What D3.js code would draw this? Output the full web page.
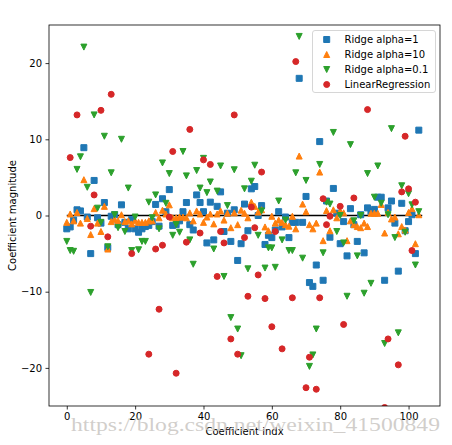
<!DOCTYPE html>
<html><head><meta charset="utf-8">
<script src="https://cdn.jsdelivr.net/npm/d3@7"></script>
<style>body{margin:0;background:#fff}svg{display:block}</style>
</head><body>
<script>
// ---- data ----
const coefIndex = d3.range(104);
const ridge1 = [-1.75,-1.5,-0.6,0.75,0.6,8.9,-0.2,-5.0,4.6,-0.3,
  -1.0,1.7,-4.2,-0.1,0.1,-1.2,1.4,-0.9,-1.75,-0.5,
  -1.75,-2.2,-1.75,-1.45,-1.3,-0.8,1.45,-1.4,2.2,0.5,
  3.4,-1.3,-1.2,-0.7,0.5,1.7,-1.2,-1.9,2.7,1.7,
  0.5,-3.6,1.75,-3.2,1.2,3.1,-2.1,0.3,-3.4,0.75,
  -5.9,-3.7,1.5,-2.0,3.5,3.8,0.0,1.3,-3.8,-2.6,
  -2.9,-1.9,0.5,-1.5,-0.2,-2.9,-0.9,-0.9,18.0,-0.9,
  2.5,-8.8,-9.3,-6.5,9.7,-8.5,1.9,-2.85,3.55,0.3,
  -3.7,-0.8,-5.3,0.9,-1.2,-3.4,0.1,-4.9,1.0,0.5,
  0.8,2.4,2.4,-8.5,1.0,1.9,-1.0,-7.3,1.6,-2.0,
  -0.8,0.1,-5.0,11.2];
const ridge10 = [-0.9,0.2,-0.7,0.4,-1.0,4.7,-0.4,-2.5,0.9,-1.0,
  -2.1,1.2,-4.4,-0.8,-0.5,-0.7,0.1,-0.8,-0.7,-1.1,
  -0.7,-0.9,-0.9,-0.9,-0.7,-0.7,0.4,-0.3,0.7,0.2,
  1.4,-0.3,-0.3,-0.2,-0.2,-0.3,0.35,-0.7,0.6,0.2,
  -0.9,-0.2,0.2,-1.1,0.2,0.6,-0.6,0.3,-1.6,0.35,
  -1.2,0.7,0.3,-0.3,1.75,1.2,0.45,0.75,-1.5,-2.0,
  -0.1,-1.0,-0.6,-0.9,-1.2,-1.4,-0.1,-1.75,7.8,1.5,
  0.5,-1.2,-1.75,-1.0,5.7,-3.3,0.65,-2.0,0.75,-0.3,
  0.6,0.35,-3.3,-0.7,-1.2,-1.45,-1.6,-1.0,-1.45,0.3,
  0.3,0.3,1.45,-2.3,0.4,-0.45,-0.2,-2.4,-1.45,-1.9,
  0.4,0.9,-3.7,0.1];
const ridge01 = [-3.4,-4.6,-4.7,6.05,7.7,22.1,3.7,-10.1,13.2,0.96,
  -0.9,10.4,-4.1,5.6,0.1,-1.6,10.0,-2.1,3.6,-4.6,
  -0.2,-4.5,-3.4,-3.4,1.75,-0.3,2.7,-1.75,6.9,1.6,
  5.5,-2.6,-1.2,-2.2,8.4,5.2,-3.2,-6.4,5.9,3.6,
  7.5,3.0,4.4,-4.4,3.2,6.5,-8.0,1.3,-13.4,6.0,
  -14.9,-18.4,3.5,-7.0,4.5,6.6,-2.6,0.6,-6.9,-4.25,
  -4.25,-6.8,1.9,-3.2,-0.6,-4.6,-4.6,5.6,23.5,-5.6,
  4.6,-19.8,-18.3,-14.9,6.7,-4.9,1.75,1.5,10.9,-2.1,
  0.0,-3.6,-10.6,9.3,-0.7,-5.3,0.0,-10.2,5.5,-8.9,
  2.4,6.5,1.6,-16.8,0.1,11.4,-2.9,-15.4,3.9,-2.2,
  2.85,1.4,-6.5,0.5];
// null = outside the visible range (-25..25), not drawn
const linreg = [null,7.6,null,13.2,null,null,null,-1.4,2.7,null,
  13.8,null,-2.8,15.9,null,null,null,null,null,-5.0,
  null,null,null,null,-18.2,null,-4.4,-12.3,-3.9,null,
  -0.2,8.4,-20.7,null,null,-3.5,11.3,null,null,-2.3,
  7.3,null,6.7,null,-8.0,-2.1,-3.6,null,-16.2,13.2,
  -18.2,null,-2.9,-10.6,1.1,-1.6,-7.8,5.7,-10.9,null,
  -14.6,-2.1,null,-17.5,null,null,-10.8,20.2,null,null,
  -22.6,-18.6,null,-22.8,-10.8,2.2,-1.2,-0.1,null,null,
  1.2,-14.3,null,null,2.3,null,null,null,13.9,null,
  null,null,null,-25.2,-16.2,null,null,-19.6,3.1,10.4,
  3.5,-4.6,1.75,null];
const xTicks = [0,20,40,60,80,100];
const yTicks = [-20,-10,0,10,20];
const seriesLabels = ["Ridge alpha=1","Ridge alpha=10","Ridge alpha=0.1","LinearRegression"];
const seriesColors = ["#1f77b4","#ff7f0e","#2ca02c","#d62728"];
const seriesShapes = ["square","triUp","triDown","circle"];
const seriesValues = [ridge1, ridge10, ridge01, linreg];

// ---- layout ----
const W = 452, H = 445;
const L = 49, R = 440, T = 25, B = 406;
const x = d3.scaleLinear().domain([-5.2, 109.2]).range([L, R]);
const y = d3.scaleLinear().domain([-25, 25]).range([B, T]);
const MS = 6;

function markerPath(shape, cx, cy, s) {
  const h = s / 2;
  if (shape === "square") return `M${cx-h},${cy-h}H${cx+h}V${cy+h}H${cx-h}Z`;
  if (shape === "triUp") return `M${cx},${cy-h}L${cx+h},${cy+h}L${cx-h},${cy+h}Z`;
  if (shape === "triDown") return `M${cx},${cy+h}L${cx+h},${cy-h}L${cx-h},${cy-h}Z`;
  return `M${cx+h},${cy}A${h},${h} 0 1,1 ${cx-h},${cy}A${h},${h} 0 1,1 ${cx+h},${cy}Z`;
}

const svg = d3.select("body").append("svg").attr("width", W).attr("height", H)
  .style("font-family", "'DejaVu Sans', sans-serif");
svg.append("rect").attr("width", W).attr("height", H).attr("fill", "#fff");

svg.append("clipPath").attr("id", "clip").append("rect")
  .attr("x", L).attr("y", T).attr("width", R - L).attr("height", B - T);

const plot = svg.append("g").attr("clip-path", "url(#clip)");

// zero line (hlines 0 .. len(coef))
plot.append("line")
  .attr("x1", x(0)).attr("x2", x(coefIndex.length))
  .attr("y1", y(0)).attr("y2", y(0))
  .attr("stroke", "#000").attr("stroke-width", 1.5);

seriesValues.forEach((vals, si) => {
  plot.append("g").selectAll("path")
    .data(coefIndex.filter(i => vals[i] !== null && vals[i] !== undefined))
    .join("path")
    .attr("d", i => markerPath(seriesShapes[si], x(i), y(vals[i]), MS))
    .attr("fill", seriesColors[si])
    .attr("stroke", seriesColors[si])
    .attr("stroke-width", 1)
    .attr("stroke-linejoin", "miter");
});

// axes
const xAxis = d3.axisBottom(x).tickValues(xTicks).tickSize(3.5).tickPadding(3.5)
  .tickFormat(d3.format("d"));
const yAxis = d3.axisLeft(y).tickValues(yTicks).tickSize(3.5).tickPadding(3.5)
  .tickFormat(d => d < 0 ? "\u2212" + Math.abs(d) : String(d));

const gx = svg.append("g").attr("transform", `translate(0,${B})`).call(xAxis);
const gy = svg.append("g").attr("transform", `translate(${L},0)`).call(yAxis);
[gx, gy].forEach(g => {
  g.select(".domain").remove();
  g.selectAll("line").attr("stroke", "#000").attr("stroke-width", 0.8);
  g.selectAll("text").attr("fill", "#000").style("font-size", "10px")
    .style("font-family", "'DejaVu Sans', sans-serif");
});

// frame
svg.append("rect").attr("x", L).attr("y", T).attr("width", R - L).attr("height", B - T)
  .attr("fill", "none").attr("stroke", "#000").attr("stroke-width", 0.8);

// axis labels
svg.append("text").attr("x", (L + R) / 2).attr("y", 435).attr("text-anchor", "middle")
  .style("font-size", "10px").text("Coefficient indx");
svg.append("text").attr("transform", `translate(16,${(T + B) / 2}) rotate(-90)`)
  .attr("text-anchor", "middle").style("font-size", "10px").text("Coefficient magnitude");

// legend
const lg = svg.append("g");
lg.append("rect").attr("x", 312.5).attr("y", 30.5).attr("width", 123).attr("height", 62)
  .attr("rx", 2.5).attr("fill", "#fff").attr("fill-opacity", 0.8)
  .attr("stroke", "#cccccc").attr("stroke-width", 0.8);
seriesLabels.forEach((lab, i) => {
  const yy = 39.5 + i * 15;
  lg.append("path").attr("d", markerPath(seriesShapes[i], 326.7, yy, MS))
    .attr("fill", seriesColors[i]).attr("stroke", seriesColors[i]).attr("stroke-width", 1);
  lg.append("text").attr("x", 344.5).attr("y", yy).attr("dy", "0.35em")
    .style("font-size", "10px").text(lab);
});

// watermark
svg.append("text").attr("x", 71).attr("y", 431)
  .attr("textLength", 369).attr("lengthAdjust", "spacingAndGlyphs")
  .style("font-family", "'Liberation Serif', serif").style("font-size", "19px")
  .attr("fill", "#c9c6c2").attr("fill-opacity", 0.85)
  .text("https://blog.csdn.net/weixin_41500849");
</script>
</body></html>
